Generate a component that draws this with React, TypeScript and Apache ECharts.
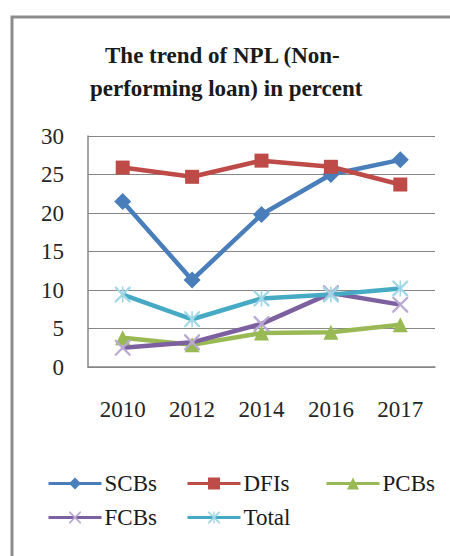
import React, { useEffect, useRef } from "react";
import * as echarts from "echarts";

const years = ["2010", "2012", "2014", "2016", "2017"];
const scbs = [21.5, 11.3, 19.8, 25.0, 26.9];
const dfis = [25.9, 24.7, 26.8, 26.0, 23.7];
const pcbs = [3.8, 2.9, 4.4, 4.5, 5.5];
const fcbs = [2.5, 3.2, 5.6, 9.6, 8.1];
const total = [9.4, 6.2, 8.9, 9.4, 10.2];
const titleLines = ["The trend of NPL (Non-", "performing loan) in percent"];
const seriesNames = ["SCBs", "DFIs", "PCBs", "FCBs", "Total"];

const FONT = "'Liberation Serif', 'Times New Roman', serif";
const X_PATH =
  "path://M0,0L2,0L10,8L18,0L20,0L20,2L12,10L20,18L20,20L18,20L10,12L2,20L0,20L0,18L8,10L0,2Z";
const STAR_PATH =
  "path://M0,0L2,0L10,8L18,0L20,0L20,2L12,10L20,18L20,20L18,20L10,12L2,20L0,20L0,18L8,10L0,2ZM9,0L11,0L11,20L9,20Z";

export default function App() {
  const ref = useRef<HTMLDivElement>(null);
  useEffect(() => {
    if (!ref.current) return;
    const chart = echarts.init(ref.current, undefined, { renderer: "svg" });
    const legendPos = [
      { left: 47, top: 472 },
      { left: 186, top: 472 },
      { left: 325, top: 472 },
      { left: 47, top: 506 },
      { left: 186, top: 506 },
    ];
    const mk = (
      name: string,
      data: number[],
      color: string,
      symbol: string,
      symbolSize: number,
      markColor?: string
    ) => ({
      name,
      type: "line",
      data,
      symbol,
      symbolSize,
      showSymbol: true,
      lineStyle: { color, width: 4.5 },
      itemStyle: { color: markColor || color },
      emphasis: { disabled: true },
    });
    chart.setOption({
      animation: false,
      backgroundColor: "#ffffff",
      title: [
        {
          text: titleLines[0],
          left: 105,
          top: 44,
          padding: 0,
          textStyle: { fontFamily: FONT, fontWeight: "bold", fontSize: 23, color: "#1a1a1a" },
        },
        {
          text: titleLines[1],
          left: 90,
          top: 77,
          padding: 0,
          textStyle: { fontFamily: FONT, fontWeight: "bold", fontSize: 23, color: "#1a1a1a" },
        },
      ],
      legend: seriesNames.map((n, i) => ({
        data: [n],
        left: legendPos[i].left,
        top: legendPos[i].top,
        padding: 0,
        itemWidth: 53,
        itemHeight: 15,
        itemGap: 5,
        selectedMode: false,
        lineStyle: { width: 3 },
        textStyle: { fontFamily: FONT, fontSize: 23, color: "#1a1a1a", padding: [0, 0, 0, -2] },
      })),
      grid: { left: 88, right: 15, top: 136, bottom: 189 },
      xAxis: {
        type: "category",
        data: years,
        boundaryGap: true,
        axisLine: { lineStyle: { color: "#868686", width: 1.5 } },
        axisTick: { show: false },
        axisLabel: { fontFamily: FONT, fontSize: 23, color: "#262626", margin: 31 },
      },
      yAxis: {
        type: "value",
        min: 0,
        max: 30,
        interval: 5,
        axisLine: { show: true, lineStyle: { color: "#868686", width: 1.5 } },
        axisTick: { show: false },
        axisLabel: { fontFamily: FONT, fontSize: 23, color: "#262626", margin: 24 },
        splitLine: { lineStyle: { color: "#868686", width: 1 } },
      },
      graphic: [
        {
          type: "rect",
          silent: true,
          z: -10,
          shape: { x: 12, y: 17, width: 470, height: 570 },
          style: { fill: "none", stroke: "#8c8c8c", lineWidth: 3 },
        },
      ],
      series: [
        mk("SCBs", scbs, "#4a7ebb", "diamond", 17),
        mk("DFIs", dfis, "#be4b48", "rect", 14),
        mk("PCBs", pcbs, "#98b954", "triangle", 15),
        mk("FCBs", fcbs, "#7d60a0", X_PATH, 16, "#b9a8d2"),
        mk("Total", total, "#46aac5", STAR_PATH, 16, "#9fd7e6"),
      ],
    });
    return () => chart.dispose();
  }, []);
  return (
    <div
      ref={ref}
      style={{ position: "fixed", left: 0, top: 0, width: 450, height: 556, background: "#fff" }}
    />
  );
}
